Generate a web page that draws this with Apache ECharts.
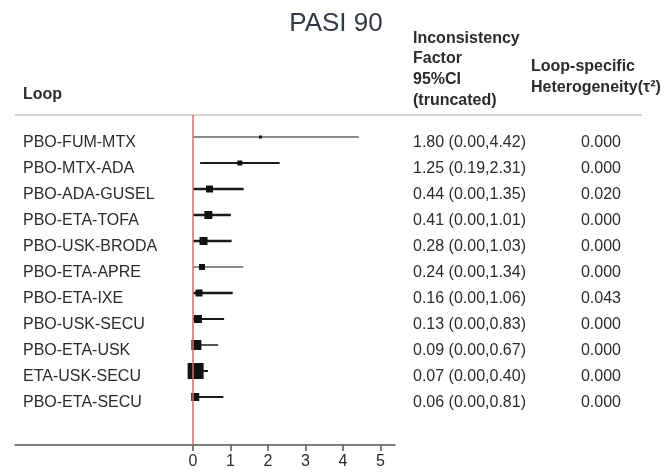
<!DOCTYPE html>
<html>
<head>
<meta charset="utf-8">
<script src="https://cdn.jsdelivr.net/npm/echarts@6/dist/echarts.min.js"></script>
<style>
  html, body { margin: 0; padding: 0; background: #fff; }
  #main { width: 669px; height: 475px; }
</style>
</head>
<body>
<div id="main"></div>
<script>
// loops, top to bottom
var loops = ['PBO-FUM-MTX', 'PBO-MTX-ADA', 'PBO-ADA-GUSEL', 'PBO-ETA-TOFA', 'PBO-USK-BRODA',
  'PBO-ETA-APRE', 'PBO-ETA-IXE', 'PBO-USK-SECU', 'PBO-ETA-USK', 'ETA-USK-SECU', 'PBO-ETA-SECU'];
// inconsistency factor and truncated 95% CI
var ifValue = [1.80, 1.25, 0.44, 0.41, 0.28, 0.24, 0.16, 0.13, 0.09, 0.07, 0.06];
var ciLow = [0.00, 0.19, 0.00, 0.00, 0.00, 0.00, 0.00, 0.00, 0.00, 0.00, 0.00];
var ciHigh = [4.42, 2.31, 1.35, 1.01, 1.03, 1.34, 1.06, 0.83, 0.67, 0.40, 0.81];
// loop-specific heterogeneity (tau^2)
var tau2 = ['0.000', '0.000', '0.020', '0.000', '0.000', '0.000', '0.043', '0.000', '0.000', '0.000', '0.000'];
// relative weight of each loop (box size)
var weights = [3, 5, 7, 8, 8, 6, 7, 8, 10, 16, 8];
var xTicks = [0, 1, 2, 3, 4, 5];

// line thickness per row, as drawn in the figure
var ciWidth = [1, 2, 2.5, 2.5, 2.5, 1, 2.5, 2, 1.5, 2, 2];

var FONT = 'Liberation Sans, Arial, sans-serif';
var TEXT = '#2b2b2b';

var rows = loops.map(function (name, i) {
  return [i, ifValue[i], ciLow[i], ciHigh[i], weights[i]];
});

var myChart = echarts.init(document.getElementById('main'));

var option = {
  animation: false,
  backgroundColor: '#fff',
  title: {
    text: 'PASI 90',
    left: 331, top: 6,
    textAlign: 'center',
    textStyle: { fontFamily: FONT, fontSize: 26, fontWeight: 'normal', color: '#333a44' }
  },
  grid: { left: 15, right: 274, top: 115, bottom: 30, containLabel: false },
  xAxis: {
    type: 'value',
    min: -4.747, max: 5.387,
    splitLine: { show: false },
    axisLine: { show: true, onZero: false, lineStyle: { color: '#555', width: 1.5 } },
    axisTick: { show: true, length: 6, customValues: xTicks, lineStyle: { color: '#555', width: 1.5 } },
    axisLabel: {
      customValues: xTicks, margin: 9,
      fontFamily: FONT, fontSize: 16, color: TEXT
    }
  },
  yAxis: {
    type: 'value', inverse: true,
    min: -0.846, max: 11.846,
    show: false
  },
  series: [{
    // null line at 0, kept under the boxes
    type: 'line',
    data: [],
    z: 1,
    markLine: {
      silent: true, symbol: 'none',
      label: { show: false },
      lineStyle: { color: '#d9676b', width: 1.5, type: 'solid' },
      data: [{ xAxis: 0 }]
    }
  }, {
    type: 'custom',
    data: rows,
    encode: { x: [1, 2, 3], y: 0 },
    renderItem: function (params, api) {
      var i = api.value(0);
      var c = api.coord([api.value(1), i]);
      var lo = api.coord([api.value(2), i]);
      var hi = api.coord([api.value(3), i]);
      var s = api.value(4);
      return {
        type: 'group',
        children: [{
          type: 'line',
          shape: { x1: lo[0], y1: lo[1], x2: hi[0], y2: hi[1] },
          style: { stroke: '#1a1a1a', lineWidth: ciWidth[i] }
        }, {
          type: 'rect',
          shape: { x: c[0] - s / 2, y: c[1] - s / 2, width: s, height: s },
          style: { fill: '#111' }
        }]
      };
    },
    z: 3
  }]
};
myChart.setOption(option);

// header block and text columns, placed on the same row scale as the boxes
var head = { fontFamily: FONT, fontSize: 16, fontWeight: 'bold', fill: TEXT, verticalAlign: 'middle' };
function headText(x, y, t) {
  return { type: 'text', x: x, y: y, style: Object.assign({ text: t }, head) };
}
var graphics = [
  { type: 'line', shape: { x1: 15, y1: 115, x2: 642, y2: 115 }, style: { stroke: '#aaa', lineWidth: 1.2 } },
  headText(23, 95, 'Loop'),
  headText(413, 39, 'Inconsistency'),
  headText(413, 59, 'Factor'),
  headText(413, 80, '95%CI'),
  headText(413, 101, '(truncated)'),
  headText(531, 67, 'Loop-specific'),
  headText(531, 88, 'Heterogeneity(τ²)')
];
loops.forEach(function (name, i) {
  var y = myChart.convertToPixel({ yAxisIndex: 0 }, i) + 6;
  var body = { fontFamily: FONT, fontSize: 16, fill: TEXT, verticalAlign: 'middle' };
  graphics.push({ type: 'text', x: 23, y: y, style: Object.assign({ text: name }, body) });
  graphics.push({ type: 'text', x: 413, y: y,
    style: Object.assign({ text: ifValue[i].toFixed(2) + ' (' + ciLow[i].toFixed(2) + ',' + ciHigh[i].toFixed(2) + ')' }, body) });
  graphics.push({ type: 'text', x: 621, y: y, style: Object.assign({ text: tau2[i], align: 'right' }, body) });
});
myChart.setOption({ graphic: graphics });
</script>
</body>
</html>
